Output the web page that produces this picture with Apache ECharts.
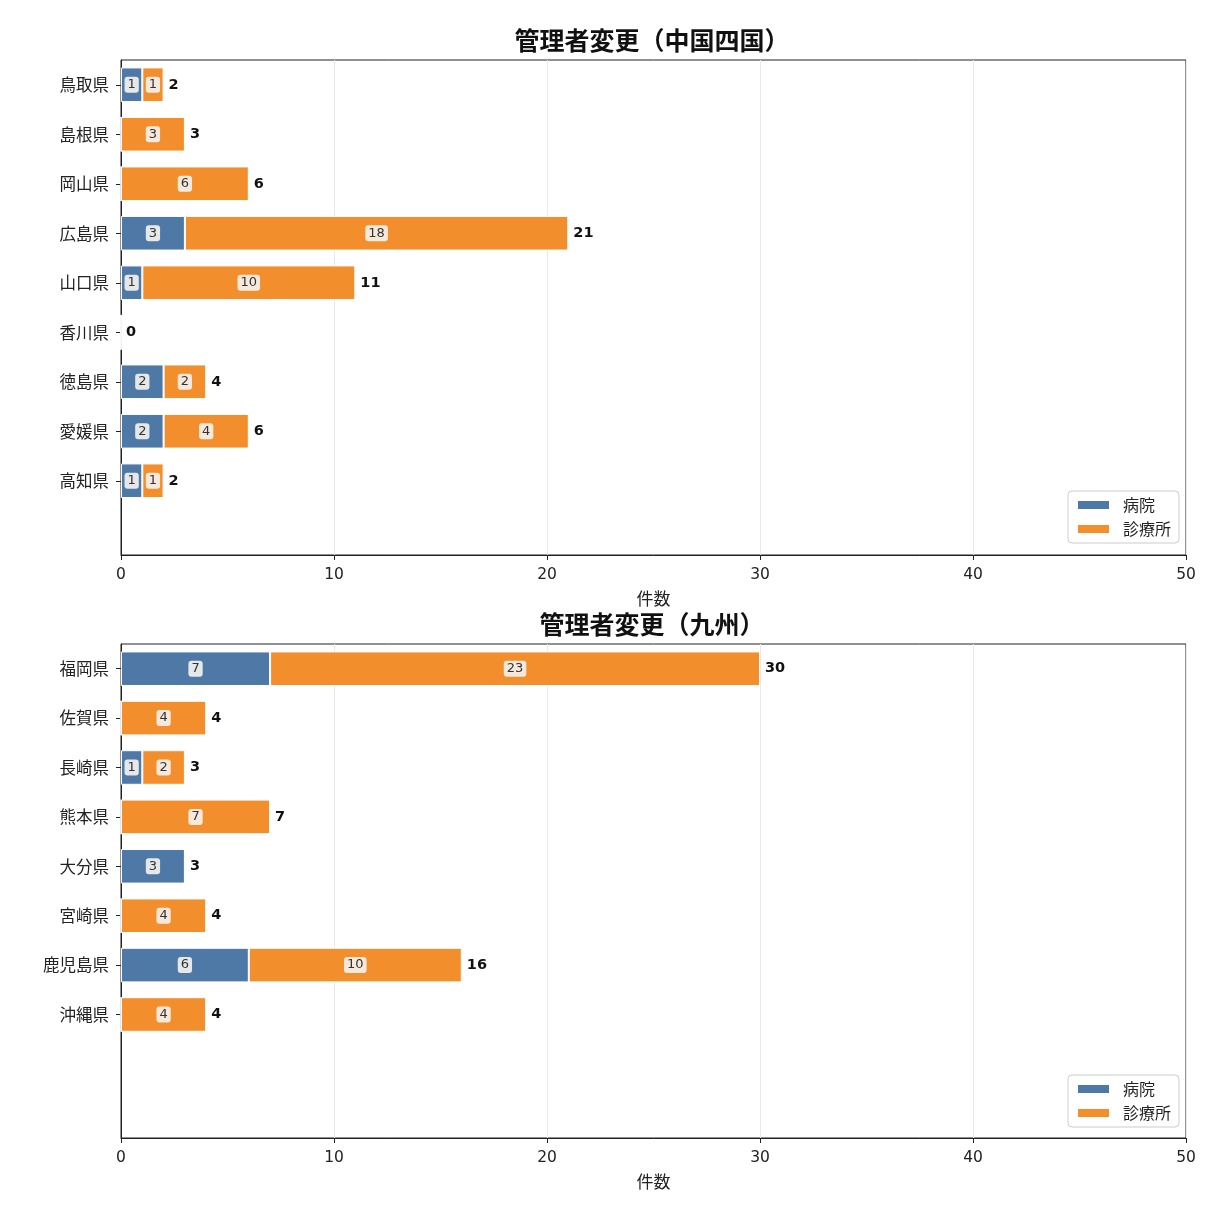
<!DOCTYPE html>
<html><head><meta charset="utf-8">
<script src="https://cdn.jsdelivr.net/npm/echarts@6/dist/echarts.min.js"></script>
<style>html,body{margin:0;padding:0;background:#fff}#c{width:1211px;height:1211px}</style>
</head><body><div id="c"></div>
<script>
const titleTop = '管理者変更（中国四国）';
const titleBottom = '管理者変更（九州）';
const seriesNames = ['病院', '診療所'];
const xTicks = [0, 10, 20, 30, 40, 50];
const xAxisName = '件数';

const catTop = ['鳥取県', '島根県', '岡山県', '広島県', '山口県', '香川県', '徳島県', '愛媛県', '高知県'];
const hospTop = [1, 0, 0, 3, 1, 0, 2, 2, 1];
const clinTop = [1, 3, 6, 18, 10, 0, 2, 4, 1];

const catBottom = ['福岡県', '佐賀県', '長崎県', '熊本県', '大分県', '宮崎県', '鹿児島県', '沖縄県'];
const hospBottom = [7, 0, 1, 0, 3, 0, 6, 0];
const clinBottom = [23, 4, 2, 7, 0, 4, 10, 4];

const SLOTS = 10;
const FONT = '"Noto Sans CJK JP", "Noto Sans", sans-serif';
const NUMFONT = '"DejaVu Sans", sans-serif';
const C_H = '#4e79a7', C_C = '#f28e2b';

function padCats(cats) {
  const out = cats.slice();
  let k = 1;
  while (out.length < SLOTS) { out.push('\u200b'.repeat(k)); k++; }
  return out;
}

const innerLabel = {
  show: true, position: 'inside', color: '#333', fontSize: 13, fontFamily: NUMFONT,
  backgroundColor: 'rgba(246,243,240,0.9)', borderRadius: 3, padding: [2, 3, 1, 3]
};

function mkItems(vals) {
  return vals.map(v => ({ value: v, label: { show: v > 0 } }));
}

function mkSeries(idx, hosp, clin) {
  const totals = hosp.map((h, i) => h + clin[i]);
  const stack = 's' + idx;
  const common = { type: 'bar', stack, xAxisIndex: idx, yAxisIndex: idx, barWidth: '70%' };
  return [
    Object.assign({}, common, { name: seriesNames[0], data: mkItems(hosp), itemStyle: { color: C_H, borderColor: '#fff', borderWidth: 1 }, label: innerLabel }),
    Object.assign({}, common, { name: seriesNames[1], data: mkItems(clin), itemStyle: { color: C_C, borderColor: '#fff', borderWidth: 1 }, label: innerLabel }),
    Object.assign({}, common, { name: 'total' + idx, data: totals.map(() => 0),
      itemStyle: { color: 'rgba(0,0,0,0)', borderWidth: 0 },
      label: { show: true, position: 'right', distance: 5, fontWeight: 'bold', fontSize: 14.5,
        color: '#111', fontFamily: NUMFONT, formatter: p => String(totals[p.dataIndex]) } })
  ];
}

function xAxis(idx) {
  return { type: 'value', gridIndex: idx, min: 0, max: 50, interval: 10,
    name: xAxisName, nameLocation: 'middle', nameGap: 35,
    nameTextStyle: { fontSize: 17, color: '#222', fontFamily: FONT },
    axisLine: { show: true, lineStyle: { color: '#222', width: 1 } },
    axisTick: { show: true, length: 5, lineStyle: { color: '#222' } },
    axisLabel: { fontSize: 15.5, color: '#222', margin: 12, fontFamily: NUMFONT },
    splitLine: { show: true, lineStyle: { color: '#ebe8e6', width: 1 } } };
}

function yAxis(idx, cats) {
  const n = cats.length;
  return { type: 'category', gridIndex: idx, inverse: true, data: padCats(cats),
    axisLine: { show: true, lineStyle: { color: '#222', width: 1 } },
    axisTick: { show: true, alignWithLabel: true, length: 5, lineStyle: { color: '#222' },
      interval: (i) => i < n },
    axisLabel: { fontSize: 16.5, color: '#222', margin: 12, fontFamily: FONT, interval: 0 },
    splitLine: { show: false } };
}

function legend(top) {
  return { data: seriesNames, orient: 'vertical', right: 32, top: top,
    itemWidth: 33, itemHeight: 10, itemGap: 8, icon: 'rect',
    textStyle: { fontSize: 16, color: '#222', fontFamily: FONT, padding: [0, 0, 0, 8] },
    backgroundColor: '#fff', borderColor: '#ccc', borderWidth: 1, borderRadius: 4,
    padding: [6, 8, 6, 8] };
}

const chart = echarts.init(document.getElementById('c'));
chart.setOption({
  animation: false,
  textStyle: { fontFamily: FONT },
  title: [
    { text: titleTop, left: 647, top: 23, textAlign: 'center',
      textStyle: { fontSize: 25, fontWeight: 'bold', color: '#111', fontFamily: FONT } },
    { text: titleBottom, left: 647, top: 607, textAlign: 'center',
      textStyle: { fontSize: 25, fontWeight: 'bold', color: '#111', fontFamily: FONT } }
  ],
  legend: [legend(491), legend(1075)],
  grid: [
    { left: 121, top: 60, width: 1065, height: 495, show: true, borderColor: '#222', borderWidth: 1, backgroundColor: 'transparent' },
    { left: 121, top: 644, width: 1065, height: 494, show: true, borderColor: '#222', borderWidth: 1, backgroundColor: 'transparent' }
  ],
  xAxis: [xAxis(0), xAxis(1)],
  yAxis: [yAxis(0, catTop), yAxis(1, catBottom)],
  series: mkSeries(0, hospTop, clinTop).concat(mkSeries(1, hospBottom, clinBottom))
});
</script></body></html>
